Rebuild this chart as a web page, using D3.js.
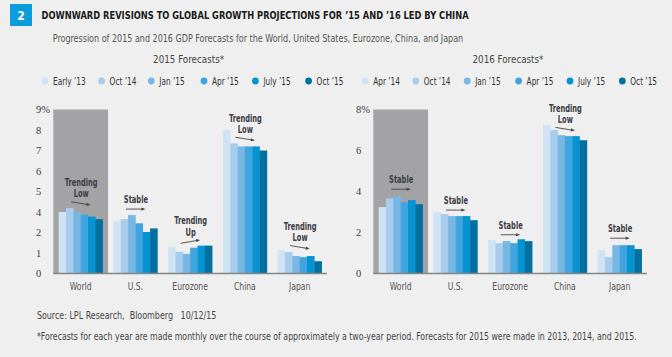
<!DOCTYPE html>
<html><head><meta charset="utf-8">
<script src="https://cdn.jsdelivr.net/npm/d3@7"></script>
<style>
body{margin:0;background:#efefef;}
svg{display:block;}
.cond{font-family:"Liberation Sans Narrow","DejaVu Sans Condensed","Arial Narrow",sans-serif;font-stretch:condensed;}
.serif{font-family:"Liberation Serif","DejaVu Serif",serif;}
</style></head>
<body>
<script>
// ---------- DATA ----------
const categories = ["World", "U.S.", "Eurozone", "China", "Japan"];
const series2015 = ["Early \u201913", "Oct \u201914", "Jan \u201915", "Apr \u201915", "July \u201915", "Oct \u201915"];
const series2016 = ["Apr \u201914", "Oct \u201914", "Jan \u201915", "Apr \u201915", "July \u201915", "Oct \u201915"];
// 2015 forecasts (%), one array per category, in series order
const f2015World    = [4.0, 4.2, 4.0, 3.75, 3.55, 3.3];
const f2015US       = [3.1, 3.3, 3.7, 2.9, 2.05, 2.4];
const f2015Eurozone = [1.28, 1.06, 0.96, 1.26, 1.36, 1.36];
const f2015China    = [8.0, 7.35, 7.2, 7.2, 7.2, 7.0];
const f2015Japan    = [1.14, 1.04, 0.85, 0.8, 0.85, 0.6];
// 2016 forecasts (%)
const f2016World    = [3.24, 3.67, 3.77, 3.48, 3.58, 3.38];
const f2016US       = [3.0, 2.9, 2.8, 2.8, 2.8, 2.6];
const f2016Eurozone = [1.63, 1.48, 1.58, 1.48, 1.67, 1.58];
const f2016China    = [7.25, 7.0, 6.75, 6.7, 6.7, 6.5];
const f2016Japan    = [1.14, 0.8, 1.38, 1.38, 1.38, 1.19];
// tick labels as printed on the original (left axis skips "3")
const ticks2015Values = [0, 1, 2, 4, 5, 6, 7, 8, 9];
const ticks2015Labels = ["0", "1", "2", "4", "5", "6", "7", "8", "9%"];
const ticks2016Values = [0, 2, 4, 6, 8];
const ticks2016Labels = ["0", "2", "4", "6", "8%"];
// trend annotations
const notes2015 = [
  {cat:"World", lines:["Trending","Low"], dir:"down", lift:4.5},
  {cat:"U.S.", lines:["Stable"], dir:"flat", lift:6},
  {cat:"Eurozone", lines:["Trending","Up"], dir:"up", lift:4},
  {cat:"China", lines:["Trending","Low"], dir:"down", lift:4.5},
  {cat:"Japan", lines:["Trending","Low"], dir:"down", lift:5}
];
const notes2016 = [
  {cat:"World", lines:["Stable"], dir:"flat", lift:7},
  {cat:"U.S.", lines:["Stable"], dir:"flat", lift:4},
  {cat:"Eurozone", lines:["Stable"], dir:"flat", lift:4.5},
  {cat:"China", lines:["Trending","Low"], dir:"down", lift:1},
  {cat:"Japan", lines:["Stable"], dir:"flat", lift:7}
];
const colors = ["#d0e3f5", "#a7cced", "#78b6e4", "#40a5df", "#0593d2", "#04709f"];

// ---------- CHART ----------
const W = 672, H = 357;
const svg = d3.select("body").append("svg").attr("width", W).attr("height", H);
svg.append("rect").attr("width", W).attr("height", H).attr("fill", "#efefef");

// horizontally condense a text selection so that a reference string gets a target width
function condense(sel, refText, refWidth) {
  const probe = svg.append("text").attr("class", sel.attr("class"))
    .attr("font-size", sel.attr("font-size")).attr("font-weight", sel.attr("font-weight")).text(refText);
  const k = refWidth / probe.node().getComputedTextLength();
  probe.remove();
  sel.each(function () {
    const n = this.getComputedTextLength();
    d3.select(this).attr("textLength", n * k).attr("lengthAdjust", "spacingAndGlyphs");
  });
}
// place a text line squeezed horizontally (by transform) to a given width
function fitLine(x, y, width, size, color, txt, preserve) {
  const g = svg.append("g");
  const t = g.append("text").attr("class", "cond").attr("x", 0).attr("y", 0)
    .attr("font-size", size).attr("fill", color).text(txt);
  if (preserve) t.attr("xml:space", "preserve").style("white-space", "pre");
  const k = width / t.node().getComputedTextLength();
  g.attr("transform", `translate(${x},${y}) scale(${k},1)`);
}

// header
svg.append("rect").attr("x", 10).attr("y", 4).attr("width", 22).attr("height", 22).attr("fill", "#0a9cdb");
svg.append("text").attr("class", "cond").attr("x", 21).attr("y", 19.5).attr("text-anchor", "middle")
  .attr("font-size", 12).attr("font-weight", "bold").attr("fill", "#fff").text("2");
svg.append("text").attr("class", "cond").attr("x", 41.6).attr("y", 19)
  .attr("font-size", 11).attr("font-weight", "bold").attr("fill", "#1a1a1a")
  .attr("textLength", 427).attr("lengthAdjust", "spacingAndGlyphs")
  .text("DOWNWARD REVISIONS TO GLOBAL GROWTH PROJECTIONS FOR \u201915 AND \u201916 LED BY CHINA");
fitLine(52.7, 42, 411, 10, "#555",
  "Progression of 2015 and 2016 GDP Forecasts for the World, United States, Eurozone, China, and Japan");

const y0 = 273.5, yUnit = 20.5;

function drawPanel(opt) {
  const g = svg.append("g");
  const x = d3.scaleBand().domain(categories).range(opt.xRange).padding(0);
  const x1 = d3.scaleBand().domain(d3.range(6)).range([0, 44]).padding(0);
  const off = (x.bandwidth() - 44) / 2;
  const y = d3.scaleLinear().domain(opt.yDomain).range(opt.yRange);

  // panel title
  g.append("text").attr("class", "cond").attr("x", opt.titleX).attr("y", 62.5).attr("text-anchor", "middle")
    .attr("font-size", 10.5).attr("fill", "#444").attr("textLength", 71).attr("lengthAdjust", "spacingAndGlyphs")
    .text(opt.title);

  // legend
  const leg = g.selectAll("g.leg").data(opt.series).join("g").attr("class", "leg")
    .attr("transform", (d, i) => `translate(${opt.legendX[i]},81)`);
  leg.append("circle").attr("r", 3.4).attr("fill", (d, i) => colors[i]);
  const legText = leg.append("text").attr("class", "cond").attr("x", 8).attr("y", 3.6).attr("font-size", 10.5)
    .attr("fill", "#333").text(d => d);
  condense(legText, "Early \u201913", 32.6);

  // gray highlight band (World)
  const yTop = y(opt.yDomain[opt.yDomain.length - 1]);
  g.append("rect").attr("x", x(categories[0])).attr("y", yTop)
    .attr("width", x.bandwidth()).attr("height", y0 - yTop).attr("fill", "#a3a3a5");

  // y tick labels
  g.selectAll("text.tick").data(opt.tickValues).join("text").attr("class", "tick serif")
    .attr("x", opt.tickX).attr("y", d => y(d) + 3.8).attr("font-size", 10.5).attr("fill", "#3a3a3a")
    .text((d, i) => opt.tickLabels[i]);

  // bars
  const groups = g.selectAll("g.cat").data(categories).join("g").attr("class", "cat")
    .attr("transform", d => `translate(${x(d) + off},0)`);
  groups.selectAll("rect").data((d, ci) => opt.values[ci]).join("rect")
    .attr("x", (d, i) => x1(i)).attr("width", x1.bandwidth() + 0.3)
    .attr("y", d => y(d)).attr("height", d => y0 - y(d))
    .attr("fill", (d, i) => colors[i]);

  // axis line
  g.append("line").attr("x1", opt.xRange[0]).attr("x2", opt.xRange[1]).attr("y1", y0).attr("y2", y0)
    .attr("stroke", "#858585").attr("stroke-width", 1.5);

  // category labels
  const catText = g.selectAll("text.catlab").data(categories).join("text").attr("class", "cond")
    .attr("x", d => x(d) + x.bandwidth() / 2).attr("y", 290).attr("text-anchor", "middle")
    .attr("font-size", 10.5).attr("fill", "#555").text(d => d);
  condense(catText, "Eurozone", 35.6);

  // annotations
  opt.notes.forEach(n => {
    const ci = categories.indexOf(n.cat);
    const cx = x(n.cat) + x.bandwidth() / 2;
    const top = y(d3.max(opt.values[ci].slice(1)));
    const ym = top - n.lift;
    const dy = n.dir === "down" ? 1.6 : n.dir === "up" ? -1.7 : 0;
    g.append("line").attr("x1", cx - 9.5).attr("x2", cx + 7).attr("y1", ym - dy).attr("y2", ym + dy * 0.7)
      .attr("stroke", "#444").attr("stroke-width", 0.9);
    const ex = cx + 10, ey = ym + dy;
    const ang = Math.atan2(2 * dy, 19.5);
    const p = [[ex, ey], [ex - 4 * Math.cos(ang) - 1.6 * Math.sin(ang), ey - 4 * Math.sin(ang) + 1.6 * Math.cos(ang)],
               [ex - 4 * Math.cos(ang) + 1.6 * Math.sin(ang), ey - 4 * Math.sin(ang) - 1.6 * Math.cos(ang)]];
    g.append("path").attr("d", d3.line()(p) + "Z").attr("fill", "#444");
    const lines = n.lines.slice().reverse();
    lines.forEach((t, k) => {
      g.append("text").attr("class", "cond note").attr("x", cx + 0.5).attr("y", ym - 6 - k * 11.2)
        .attr("text-anchor", "middle").attr("font-size", 10.5).attr("font-weight", "bold")
        .attr("fill", "#3d3d45").text(t);
    });
  });
  condense(g.selectAll("text.note"), "Trending", 33);
}

drawPanel({
  title: "2015 Forecasts*", titleX: 188.6,
  series: series2015, legendX: [45, 101.6, 151.3, 204, 255.4, 308.6],
  xRange: [53.3, 327],
  // printed axis jumps from 2 to 4 over a single grid step
  yDomain: [0, 2, 4, 9], yRange: [y0, y0 - 2 * yUnit, y0 - 3 * yUnit, y0 - 8 * yUnit],
  tickValues: ticks2015Values, tickLabels: ticks2015Labels, tickX: 36,
  values: [f2015World, f2015US, f2015Eurozone, f2015China, f2015Japan],
  notes: notes2015
});
drawPanel({
  title: "2016 Forecasts*", titleX: 508,
  series: series2016, legendX: [365.2, 415.8, 467.2, 518.6, 570, 622.3],
  xRange: [373.3, 647],
  yDomain: [0, 8], yRange: [y0, y0 - 8 * yUnit],
  tickValues: ticks2016Values, tickLabels: ticks2016Labels, tickX: 356,
  values: [f2016World, f2016US, f2016Eurozone, f2016China, f2016Japan],
  notes: notes2016
});

// footer
fitLine(36.9, 318.5, 179.6, 10, "#444", "Source: LPL Research,  Bloomberg   10/12/15", true);
fitLine(36.9, 340, 601, 10, "#444",
  "*Forecasts for each year are made monthly over the course of approximately a two-year period. Forecasts for 2015 were made in 2013, 2014, and 2015.");
</script>
</body></html>
